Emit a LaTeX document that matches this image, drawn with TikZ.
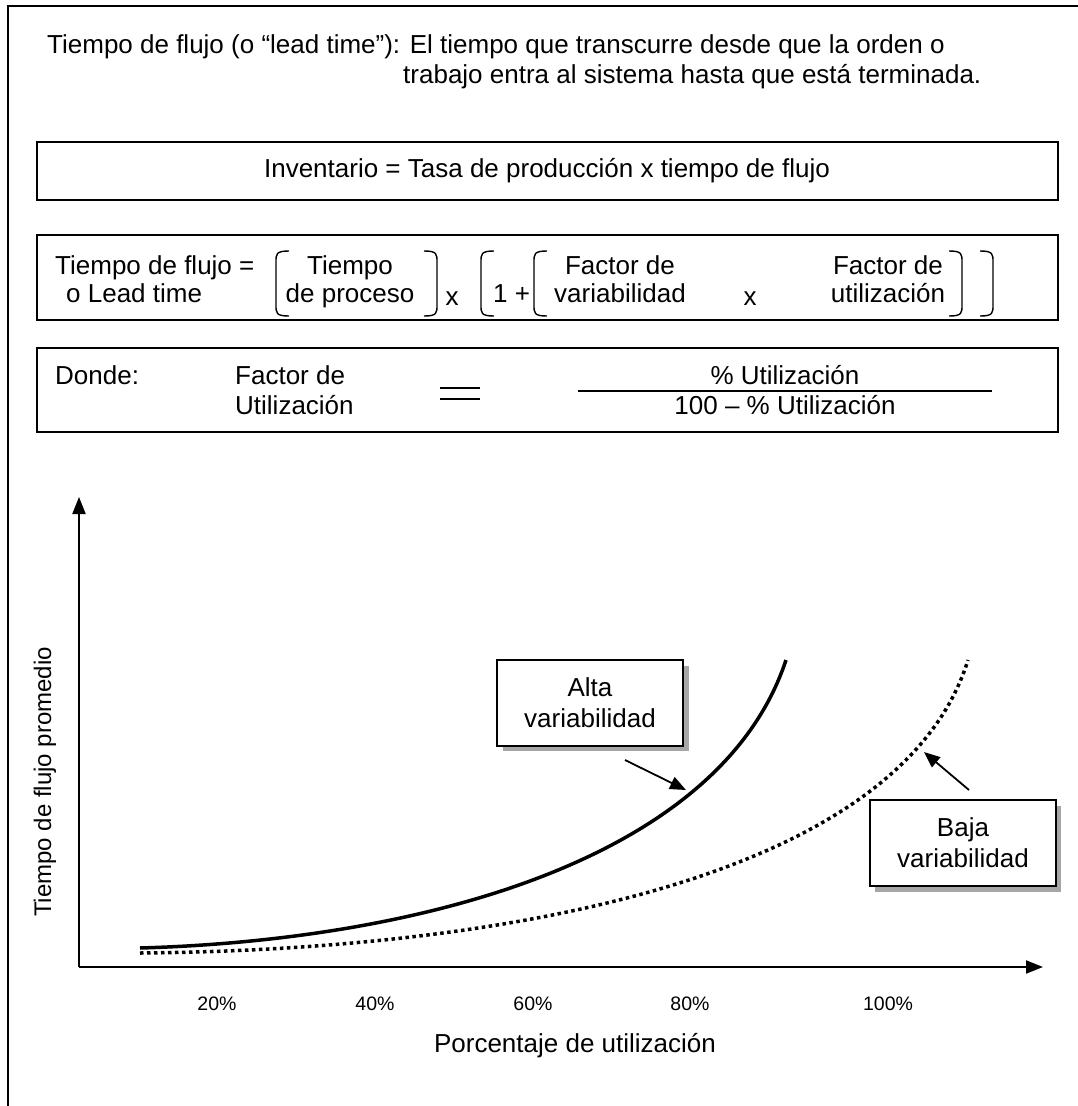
\documentclass[tikz,border=0pt]{standalone}
\usepackage{fontspec}
\setmainfont{Liberation Sans}
\usetikzlibrary{arrows.meta}
\begin{document}
\begin{tikzpicture}[x=1pt,y=-1pt,
  txt/.style={inner sep=0pt, font=\fontsize{26}{31}\selectfont},
  ylabel/.style={inner sep=0pt, font=\fontsize{24}{29}\selectfont},
  tick/.style={inner sep=0pt, font=\fontsize{19.5}{23}\selectfont},
  frame/.style={line width=2pt},
  eqbox/.style={draw, line width=2pt},
  brk/.style={line width=1.4pt},
  axis/.style={line width=2pt, -{Triangle[length=17pt,width=13pt]}},
  callout/.style={draw, line width=1.4pt, fill=white, inner sep=0pt,
    minimum width=186pt, minimum height=86pt, align=center,
    font=\fontsize{26}{31}\selectfont},
  shadow/.style={fill=gray!70},
  pointer/.style={line width=1.8pt, -{Triangle[length=16pt,width=13pt]}}]
\useasboundingbox (0,0) rectangle (1078,1106);
\clip (0,0) rectangle (1078,1106);

% outer frame
\draw[frame] (8,1130) -- (8,6) -- (1090,6);

% definition
\node[txt, anchor=base west] (def1) at (47,53) {Tiempo de flujo (o “lead time”): El tiempo que transcurre desde que la orden o};
\node[txt, anchor=base west] (def2) at (403,83) {trabajo entra al sistema hasta que está terminada.};

% inventory relation
\draw[eqbox] (37,142) rectangle (1058,200);
\node[txt] (inv) at (547,171) {Inventario = Tasa de producción x tiempo de flujo};

% lead time formula
\draw[eqbox] (37,235) rectangle (1058,320);
\node[txt, anchor=base west] (lt1) at (55,274) {Tiempo de flujo =};
\node[txt, anchor=base west] (lt2) at (66,302) {o Lead time};
\node[txt, anchor=base] (tp1) at (350,274) {Tiempo};
\node[txt, anchor=base] (tp2) at (350,302) {de proceso};
\node[txt, anchor=base] (x1) at (452,305) {x};
\node[txt, anchor=base west] (one) at (493,302) {1 +};
\node[txt, anchor=base] (fv1) at (620,274) {Factor de};
\node[txt, anchor=base] (fv2) at (620,302) {variabilidad};
\node[txt, anchor=base] (x2) at (750,305) {x};
\node[txt, anchor=base] (fu1) at (888,274) {Factor de};
\node[txt, anchor=base] (fu2) at (888,302) {utilización};

% brackets: opening ones, then closing ones
\foreach \xa/\xb in {276/289, 481/494, 534/547}
  \draw[brk] (\xb,251) .. controls (\xa,251) and (\xa,254) .. (\xa,262) -- (\xa,305)
     .. controls (\xa,313) and (\xa,316) .. (\xb,316);
\foreach \xa/\xb in {437/424, 962/949, 993/980}
  \draw[brk] (\xb,251) .. controls (\xa,251) and (\xa,254) .. (\xa,262) -- (\xa,305)
     .. controls (\xa,313) and (\xa,316) .. (\xb,316);

% utilisation factor
\draw[eqbox] (37,348) rectangle (1058,432);
\node[txt, anchor=base west] (donde) at (55,384) {Donde:};
\node[txt, anchor=base west] (fa1) at (235,384) {Factor de};
\node[txt, anchor=base west] (fa2) at (235,414) {Utilización};
\draw[line width=1.6pt] (440,388) -- (480,388) (440,399) -- (480,399);
\node[txt, anchor=base] (num) at (785,384) {\% Utilización};
\draw[line width=1.6pt] (578,391) -- (992,391);
\node[txt, anchor=base] (den) at (785,414) {100 – \% Utilización};

% axes
\coordinate (O) at (79,967);
\coordinate (ytip) at (79,497);
\coordinate (xtip) at (1043,967);
\draw[axis] (O) -- (ytip);
\draw[axis] (O) -- (xtip);
\node[ylabel, rotate=90] (ylab) at (45,782) {Tiempo de flujo promedio};
\node[txt] (xlab) at (575,1046) {Porcentaje de utilización};
\foreach \px/\lab in {217/20, 375/40, 533/60, 690/80, 888/100}
  \node[tick] at (\px,1004) {\lab\%};

% curves
\draw[line width=3.5pt] (140,948) .. controls (420,940) and (720,860) .. (786,660);
\draw[line width=3.5pt, dash pattern=on 3.5pt off 3.5pt] (140,953) .. controls (500,950) and (900,880) .. (968,660);

% callouts
\fill[shadow] (503,666) rectangle (689,751);
\node[callout] (alta) at (590,703) {Alta\\variabilidad};
\fill[shadow] (875,806) rectangle (1061,892);
\node[callout] (baja) at (963,843) {Baja\\variabilidad};
\coordinate (altaend) at (686,790);
\coordinate (bajaend) at (924,752);
\draw[pointer] (625,760) -- (altaend);
\draw[pointer] (969,790) -- (bajaend);
\end{tikzpicture}
\end{document}
